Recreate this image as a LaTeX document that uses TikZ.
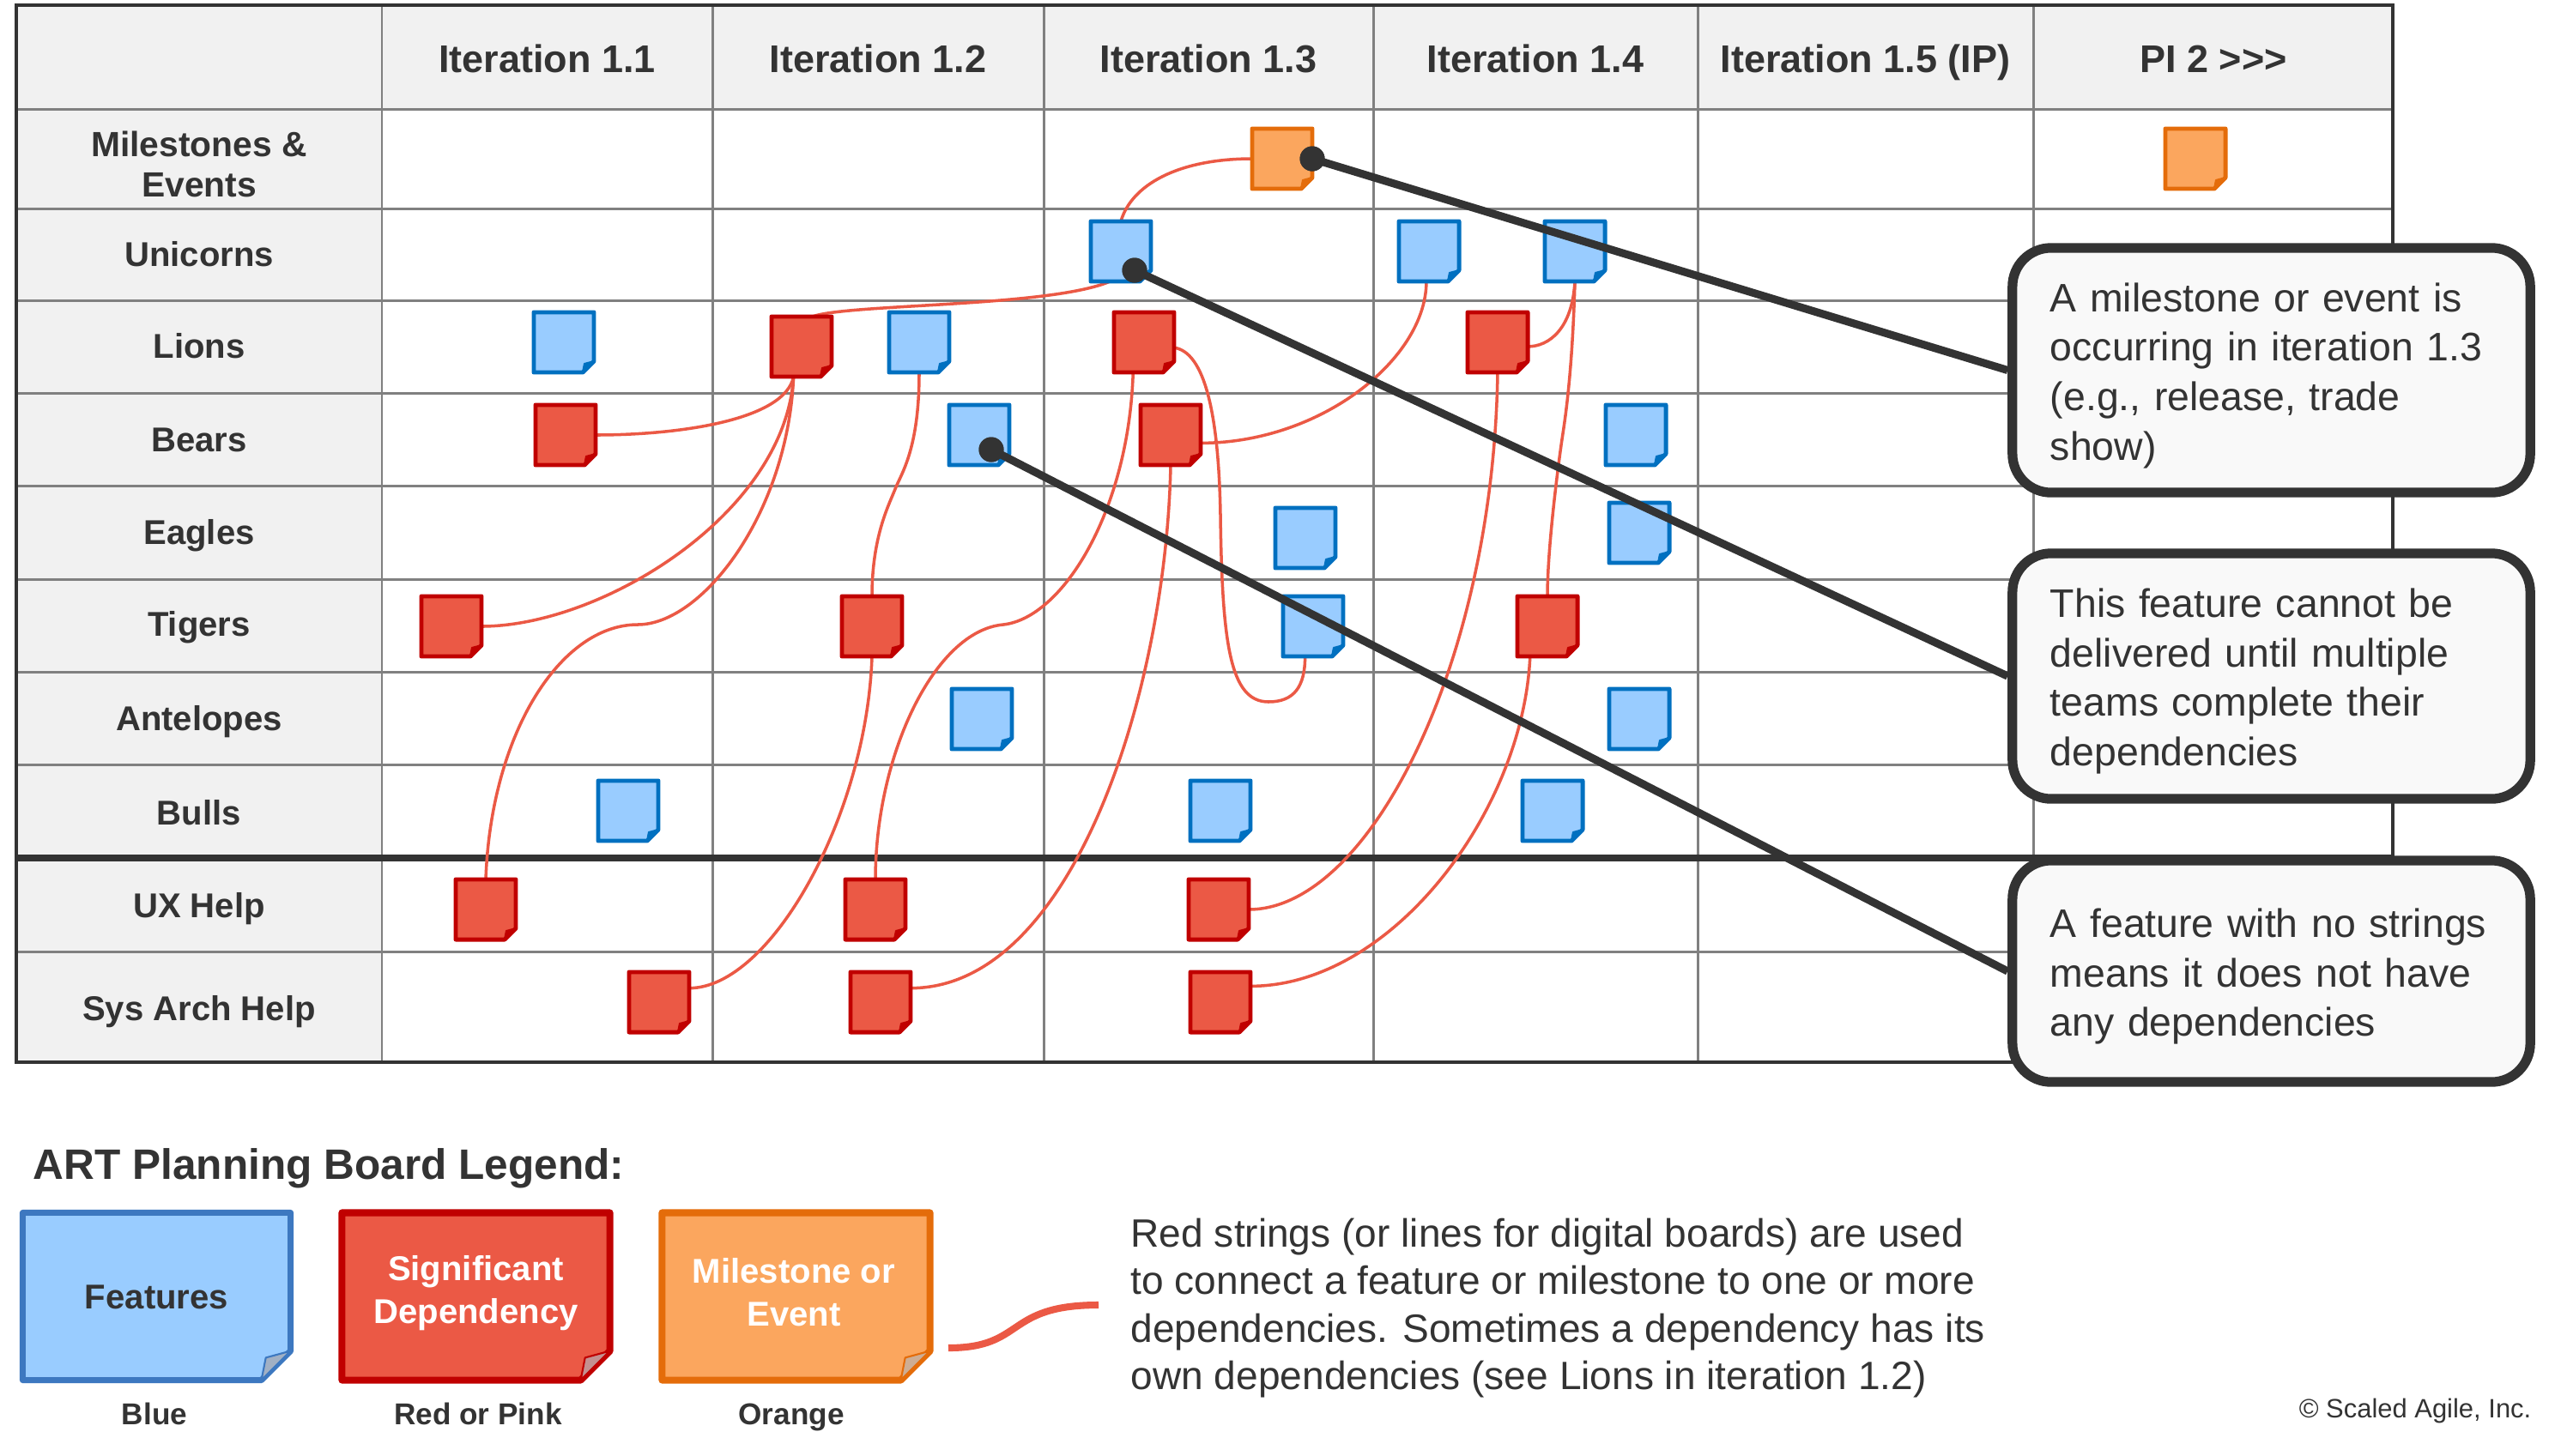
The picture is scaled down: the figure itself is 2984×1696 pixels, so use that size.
\documentclass[tikz,border=0pt]{standalone}
\usepackage{fontspec}
\setmainfont{Liberation Sans}
\usetikzlibrary{calc}
\pgfdeclarelayer{gridlayer}
\pgfdeclarelayer{strlayer}
\pgfsetlayers{gridlayer,strlayer,main}
\definecolor{txt}{HTML}{333333}
\definecolor{hdrbg}{HTML}{F1F1F1}
\definecolor{gridc}{HTML}{808080}
\definecolor{bluef}{HTML}{99CCFF}
\definecolor{blueb}{HTML}{0070C0}
\definecolor{lblueb}{HTML}{3D78C0}
\definecolor{redf}{HTML}{EB5945}
\definecolor{redb}{HTML}{C00000}
\definecolor{oraf}{HTML}{FBA65E}
\definecolor{orab}{HTML}{E46C0A}
\definecolor{strc}{HTML}{EB5945}
\definecolor{callf}{HTML}{F9F9F9}
\newcommand\foldshape[6]{%
  \draw[line width=#5, draw=#3, fill=#2, line join=round]
    (#1.north west) -- (#1.north east) -- ([shift={(0,-#4)}]#1.south east)
    -- ([shift={(-#4,0)}]#1.south east) -- (#1.south west) -- cycle;
  \filldraw[line width=0.6pt, draw=#3, fill=#6, line join=round]
    ([shift={(0,-#4)}]#1.south east) -- ([shift={(-0.85*#4,-0.77*#4)}]#1.south east)
    -- ([shift={(-#4,0)}]#1.south east) -- cycle;}
\newcommand\bnote[3]{\node[nt] (#1) at (#2,#3) {};\foldshape{#1}{bluef}{blueb}{13}{1.4pt}{blueb}}
\newcommand\rnote[3]{\node[nt] (#1) at (#2,#3) {};\foldshape{#1}{redf}{redb}{13}{1.4pt}{redb}}
\newcommand\onote[3]{\node[nt] (#1) at (#2,#3) {};\foldshape{#1}{oraf}{orab}{13}{1.4pt}{orab}}
\newcommand\topstrut{\rule{0pt}{13pt}}
\begin{document}
\begin{tikzpicture}[x=0.01cm,y=-0.01cm,
  hdr/.style={font=\bfseries\fontsize{12.8}{15}\selectfont, text=txt, anchor=base, inner sep=0},
  rowlab/.style={font=\bfseries\fontsize{11.4}{13.4}\selectfont, text=txt, anchor=base, inner sep=0, align=center},
  nt/.style={rectangle, minimum size=0.70cm, inner sep=0, outer sep=0},
  lgbox/.style={rectangle, minimum width=3.12cm, minimum height=1.95cm, inner sep=0, outer sep=0},
  lgtext/.style={font=\bfseries\fontsize{11.4}{14.3}\selectfont, align=center, inner sep=0},
  leglab/.style={font=\bfseries\fontsize{10}{12}\selectfont, text=txt, anchor=base, inner sep=0},
  strg/.style={draw=strc, line width=1pt},
  dot/.style={circle, fill=txt, minimum size=0.29cm, inner sep=0},
  leader/.style={draw=txt, line width=2.6pt},
  callout/.style={draw=txt, fill=callf, line width=3.2pt, rounded corners=0.45cm,
    minimum width=6.03cm, text width=5.15cm, inner xsep=0.44cm, align=left,
    font=\fontsize{13.2}{16.4}\selectfont, text=txt},
  gridln/.style={draw=gridc, line width=0.85pt},
  sepln/.style={draw=txt, line width=2.4pt},
  bordln/.style={draw=txt, line width=1.3pt}
]
\useasboundingbox (0,0) rectangle (2984,1696);
\begin{pgfonlayer}{gridlayer}
  \fill[white] (0,0) rectangle (2984,1696);
  \fill[hdrbg] (19,6) rectangle (2788,127);
  \fill[hdrbg] (19,127) rectangle (445,1238);
  \foreach \y in {127,243,350,458,566,675,783,891,1109} \draw[gridln] (19,\y) -- (2788,\y);
  \foreach \x in {445,830,1216,1600,1978,2369} \draw[gridln] (\x,6) -- (\x,1238);
  \draw[sepln] (19,1000) -- (2788,1000);
  \draw[bordln] (19,6) rectangle (2788,1238);
\end{pgfonlayer}

% header
\node[hdr] (h1) at (637.5,84) {Iteration 1.1};
\node[hdr] (h2) at (1023,84) {Iteration 1.2};
\node[hdr] (h3) at (1408,84) {Iteration 1.3};
\node[hdr] (h4) at (1789,84) {Iteration 1.4};
\node[hdr] (h5) at (2173.5,84) {Iteration 1.5 (IP)};
\node[hdr] (h6) at (2579,84) {PI 2 >{}>{}>};
% rows
\node[rowlab, anchor=center, font=\bfseries\fontsize{11.6}{13.4}\selectfont] (rM) at (232,191) {Milestones \&\\Events};
\node[rowlab] (rU) at (232,310) {Unicorns};
\node[rowlab] (rL) at (232,417) {Lions};
\node[rowlab] (rB) at (232,526) {Bears};
\node[rowlab] (rE) at (232,634) {Eagles};
\node[rowlab] (rT) at (232,741) {Tigers};
\node[rowlab] (rA) at (232,851) {Antelopes};
\node[rowlab] (rBu) at (232,961) {Bulls};
\node[rowlab] (rUX) at (232,1069) {UX Help};
\node[rowlab] (rSA) at (232,1189) {Sys Arch Help};

% notes
\onote{M13}{1494}{185}
\onote{MP2}{2558}{185}
\bnote{U13}{1306}{293}
\bnote{U14a}{1665}{293}
\bnote{U14b}{1835}{293}
\bnote{L11}{657}{399}
\rnote{L12r}{934}{404}
\bnote{L12b}{1071}{399}
\rnote{L13r}{1333}{399}
\rnote{L14r}{1745}{399}
\rnote{B11r}{659}{507}
\bnote{B12b}{1141}{507}
\rnote{B13r}{1364}{507}
\bnote{B15b}{1906}{507}
\bnote{E13b}{1521}{627}
\bnote{E15b}{1910}{621}
\rnote{T11r}{526}{730}
\rnote{T12r}{1016}{730}
\bnote{T13b}{1530}{730}
\rnote{T14r}{1803}{730}
\bnote{A12b}{1144}{838}
\bnote{A15b}{1910}{838}
\bnote{Bu11b}{732}{945}
\bnote{Bu13b}{1422}{945}
\bnote{Bu14b}{1809}{945}
\rnote{UX11r}{566}{1060}
\rnote{UX12r}{1020}{1060}
\rnote{UX13r}{1420}{1060}
\rnote{SA11r}{768}{1168}
\rnote{SA12r}{1026}{1168}
\rnote{SA13r}{1422}{1168}

% strings
\begin{pgfonlayer}{strlayer}
  \draw[strg] (M13.west) .. controls +(-87,0) and +(12,-42) .. (U13.north);
  \draw[strg] (U13.250) .. controls +(-70,30) and +(40,-15) .. (L12r.70);
  \draw[strg] (L12r.255) .. controls +(-10,50) and +(100,0) .. (B11r.east);
  \draw[strg] (L12r.255) .. controls +(-10,160) and +(140,0) .. (T11r.east);
  \draw[strg] (L12r.255) .. controls +(-7,160) and +(75,0) .. (743,728) .. controls +(-90,0) and +(6,-170) .. (UX11r.north);
  \draw[strg] (L12b.south) .. controls +(0,90) and +(7,-18) .. (1043,570) .. controls +(-7,18) and +(0,-70) .. (T12r.north);
  \draw[strg] (T12r.south) .. controls +(-6,185) and +(95,0) .. (SA11r.25);
  \draw[strg] (L13r.250) .. controls +(-5,160) and +(70,-8) .. (1169,728) .. controls +(-80,7) and +(0,-145) .. (UX12r.north);
  \draw[strg] (B13r.south) .. controls +(-5,260) and +(190,0) .. (SA12r.25);
  \draw[strg] (L13r.-10) .. controls +(35,5) and +(-2,-120) .. (1422,600) .. controls +(2,150) and +(-45,0) .. (1478,818) .. controls +(30,0) and +(0,35) .. (T13b.255);
  \draw[strg] (B13r.-15) .. controls +(140,0) and +(0,90) .. (U14a.265);
  \draw[strg] (U14b.south) .. controls +(-3,55) and +(25,0) .. (L14r.-8);
  \draw[strg] (U14b.south) .. controls +(-3,110) and +(3,-20) .. (1820,512) .. controls +(-3,20) and +(0,-60) .. (T14r.north);
  \draw[strg] (L14r.south) .. controls +(-5,340) and +(140,0) .. (UX13r.east);
  \draw[strg] (T14r.240) .. controls +(-8,180) and +(165,0) .. (SA13r.28);
\end{pgfonlayer}

% callouts
\node[callout, minimum height=2.85cm] (c1) at (2646.5,431.5) {\topstrut\mbox{A milestone or event is}\\\mbox{occurring in iteration 1.3}\\\mbox{(e.g., release, trade}\\show)};
\node[callout, minimum height=2.86cm] (c2) at (2646.5,788) {\topstrut\mbox{This feature cannot be}\\\mbox{delivered until multiple}\\\mbox{teams complete their}\\dependencies};
\node[callout, minimum height=2.58cm] (c3) at (2646.5,1132) {\topstrut\mbox{A feature with no strings}\\\mbox{means it does not have}\\\mbox{any dependencies}};

% leaders
\node[dot] (d1) at (M13.east) {};
\node[dot] (d2) at (1322,315) {};
\node[dot] (d3) at (1155,524) {};
\draw[leader] (d1.center) -- (c1.west);
\draw[leader] (d2.center) -- (c2.west);
\draw[leader] (d3.center) -- (c3.west);
\fill[txt] (d1) circle (14.5);
\fill[txt] (d2) circle (14.5);
\fill[txt] (d3) circle (14.5);

% legend
\node[anchor=base west, font=\bfseries\fontsize{14.1}{17}\selectfont, text=txt, inner sep=0] (lgtitle) at (38,1374) {ART Planning Board Legend:};
\node[lgbox] (lgF) at (182.5,1511) {};
\foldshape{lgF}{bluef}{lblueb}{34}{2pt}{lblueb!45!gray!60!white}
\node[lgtext, text=txt] (lgFt) at (182.5,1511.5) {Features};
\node[lgbox] (lgS) at (554.5,1511) {};
\foldshape{lgS}{redf}{redb}{34}{2.3pt}{redb!45!gray!60!white}
\node[lgtext, text=white] (lgSt) at (554.5,1507) {Significant\\Dependency};
\node[lgbox] (lgM) at (927.5,1511) {};
\foldshape{lgM}{oraf}{orab}{34}{2.3pt}{orab!45!gray!60!white}
\node[lgtext, text=white] (lgMt) at (925,1506) {Milestone or\\Event};
\node[leglab] (lb1) at (180,1660) {Blue};
\node[leglab] (lb2) at (557,1660) {Red or Pink};
\node[leglab] (lb3) at (922,1660) {Orange};

\coordinate (sq1) at (1105,1571);
\coordinate (sq2) at (1280,1521);
\draw[draw=strc, line width=2.3pt] (sq1) .. controls (1195,1571) and (1170,1521) .. (sq2);

\node[anchor=north west, inner sep=0, align=left, font=\fontsize{13.1}{15.8}\selectfont, text=txt] (desc) at (1317,1419) {Red strings (or lines for digital boards) are used\\to connect a feature or milestone to one or more\\dependencies. Sometimes a dependency has its\\own dependencies (see Lions in iteration 1.2)};
\node[anchor=base east, inner sep=0, font=\fontsize{8.8}{10}\selectfont, text=txt] (cpy) at (2950,1652) {© Scaled Agile, Inc.};
\end{tikzpicture}
\end{document}
